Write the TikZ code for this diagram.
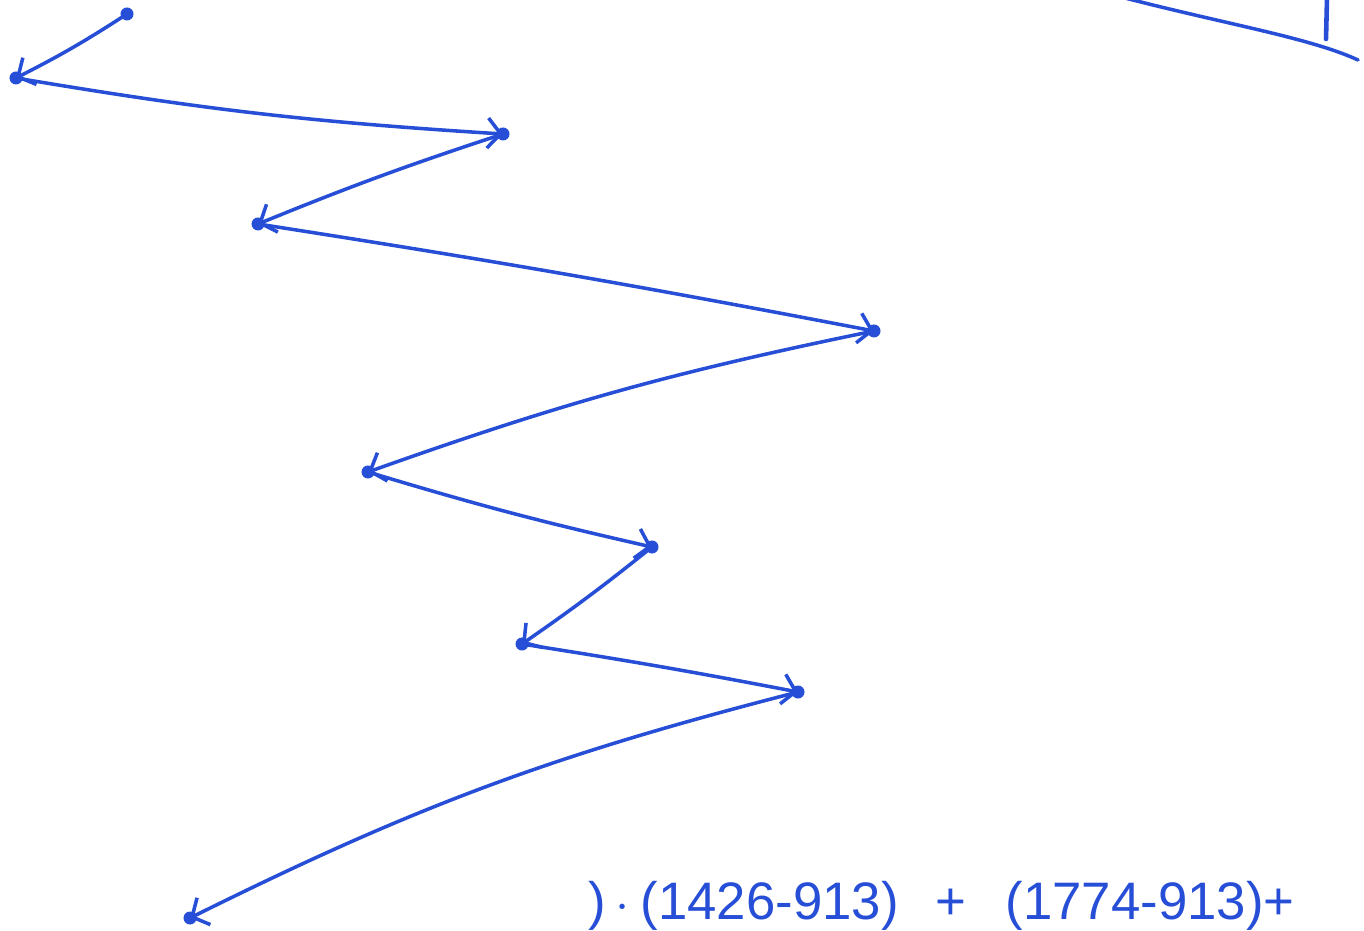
\documentclass[tikz,border=0pt]{standalone}
\usepackage{fontspec}
\setmainfont{Liberation Sans}
\usetikzlibrary{arrows.meta}
\definecolor{ink}{RGB}{38,78,214}
\tikzset{
  ink/.style={draw=ink, line width=1pt, line cap=round},
  hop/.style={ink, -{Straight Barb[length=1.3mm,width=3mm]}},
  dot/.style={fill=ink, circle, inner sep=0pt, minimum size=1.3mm},
  sumtext/.style={text=ink, font=\fontsize{15}{15}\selectfont, anchor=base west, inner sep=0pt}
}
\begin{document}
\begin{tikzpicture}[x=0.01cm, y=-0.01cm]
    % 背景与边界
    \fill[white] (0,0) rectangle (1364,931);
    \useasboundingbox (0,0) rectangle (1364,931);
    \clip (0,0) rectangle (1364,931);

    % 各个折点
    \coordinate (p0) at (127,14);
    \coordinate (p1) at (16,78);
    \coordinate (p2) at (503,134);
    \coordinate (p3) at (258,224);
    \coordinate (p4) at (874,331);
    \coordinate (p5) at (368,472);
    \coordinate (p6) at (652,547);
    \coordinate (p7) at (522,644);
    \coordinate (p8) at (798,692);
    \coordinate (p9) at (190,918);

    % 折线与箭头
    \draw[hop] (p0) to[bend left=3] (p1);
    \draw[hop] (p1) to[bend right=3] (p2);
    \draw[hop] (p2) to[bend right=2] (p3);
    \draw[hop] (p3) to[bend left=1] (p4);
    \draw[hop] (p4) to[bend right=4] (p5);
    \draw[hop] (p5) to[bend right=2] (p6);
    \draw[hop] (p6) to[bend left=2] (p7);
    \draw[hop] (p7) to[bend left=1] (p8);
    \draw[hop] (p8) to[bend right=6] (p9);

    % 端点
    \foreach \p in {p0,p1,p2,p3,p4,p5,p6,p7,p8,p9}
        \node[dot] at (\p) {};

    % 右上角
    \coordinate (c0) at (1125,-2);
    \coordinate (c1) at (1358,60);
    \coordinate (v0) at (1327,-2);
    \coordinate (v1) at (1326,39);
    \draw[ink] (c0) .. controls (1230,25) and (1310,38) .. (c1);
    \draw[ink, line width=1.3pt] (v0) -- (v1);

    % 底部算式
    \node[sumtext] (s0) at (588,919) {)\,$\cdot$};
    \node[sumtext] (s1) at (640,919) {(1426-913)};
    \node[sumtext] (s2) at (935,919) {+};
    \node[sumtext] (s3) at (1005,919) {(1774-913)+};
\end{tikzpicture}
\end{document}
